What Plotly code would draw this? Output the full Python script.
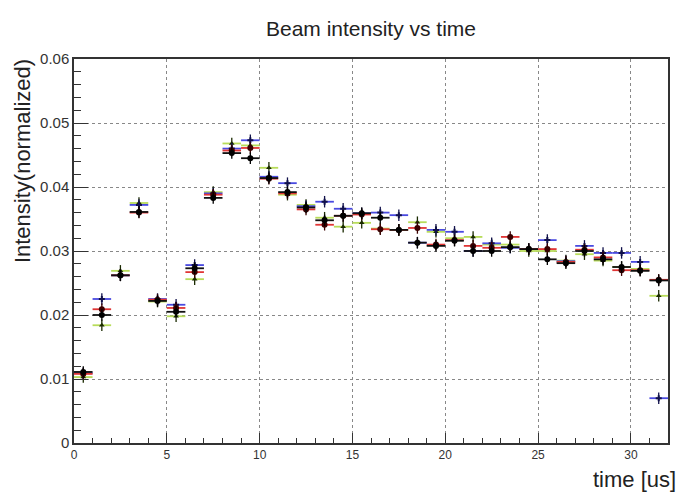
import plotly.graph_objects as go

# bin centres (time in us)
time_us = [i + 0.5 for i in range(32)]

black = [0.0111, 0.0200, 0.0262, 0.0361, 0.0222, 0.0205, 0.0273, 0.0383,
         0.0453, 0.0445, 0.0414, 0.0392, 0.0368, 0.0348, 0.0355, 0.0359,
         0.0352, 0.0333, 0.0313, 0.0308, 0.0316, 0.0300, 0.0300, 0.0306,
         0.0303, 0.0287, 0.0281, 0.0300, 0.0287, 0.0275, 0.0269, 0.0254]
red = [0.0108, 0.0209, 0.0262, 0.0360, 0.0224, 0.0211, 0.0267, 0.0388,
       0.0457, 0.0461, 0.0413, 0.0390, 0.0365, 0.0341, 0.0355, 0.0357,
       0.0334, 0.0333, 0.0336, 0.0310, 0.0317, 0.0308, 0.0305, 0.0322,
       0.0303, 0.0303, 0.0283, 0.0302, 0.0290, 0.0270, 0.0270, 0.0255]
green = [0.0103, 0.0184, 0.0269, 0.0375, 0.0221, 0.0198, 0.0256, 0.0392,
         0.0468, 0.0465, 0.0430, 0.0388, 0.0372, 0.0352, 0.0338, 0.0344,
         0.0335, 0.0333, 0.0345, 0.0330, 0.0320, 0.0322, 0.0310, 0.0310,
         0.0300, 0.0300, 0.0285, 0.0295, 0.0285, 0.0275, 0.0272, 0.0230]
blue = [0.0109, 0.0225, 0.0262, 0.0372, 0.0225, 0.0216, 0.0278, 0.0390,
        0.0460, 0.0473, 0.0416, 0.0406, 0.0370, 0.0377, 0.0366, 0.0359,
        0.0360, 0.0356, 0.0313, 0.0333, 0.0330, 0.0300, 0.0312, 0.0305,
        0.0303, 0.0317, 0.0284, 0.0308, 0.0297, 0.0297, 0.0283, 0.0070]

x_half_width = 0.5
y_error = 0.0009

series = [
    ("green", green, "#b8dc5a", "#1a2a00", "triangle-up", 5),
    ("blue", blue, "#4a4ae0", "#10104a", "cross", 5),
    ("red", red, "#e03535", "#3a0000", "circle", 6),
    ("black", black, "#111111", "#000000", "circle", 6),
]

fig = go.Figure()
for name, vals, bar_col, mk_col, sym, size in series:
    fig.add_trace(go.Scatter(
        x=time_us, y=vals, mode="markers", name=name,
        marker=dict(symbol=sym, size=size, color=mk_col),
        error_x=dict(type="constant", value=x_half_width, color=bar_col,
                     thickness=1.8, width=0),
        error_y=dict(type="constant", value=y_error, color=mk_col,
                     thickness=1.3, width=0),
        showlegend=False,
    ))

font_family = "Liberation Sans, Arial, sans-serif"

fig.update_layout(
    width=697, height=497,
    margin=dict(l=66, r=37, t=51, b=62),
    paper_bgcolor="white", plot_bgcolor="white",
    font=dict(family=font_family, color="#222"),
    title=dict(text="Beam intensity vs time", x=0.5, xref="paper",
               y=0.958, yref="container", xanchor="center", yanchor="middle",
               font=dict(size=21, color="#222", family=font_family)),
    xaxis=dict(range=[0, 32], dtick=5, tick0=0,
               showgrid=True, gridcolor="#888", griddash="dot", gridwidth=1,
               showline=True, linecolor="#333", linewidth=1.5, mirror=True,
               ticks="inside", ticklen=10, tickcolor="#333", tickwidth=1,
               minor=dict(dtick=1, ticks="inside", ticklen=5,
                          tickcolor="#333", showgrid=False),
               tickfont=dict(size=12, color="#333"),
               zeroline=False),
    yaxis=dict(range=[0, 0.06], dtick=0.01, tick0=0,
               showgrid=True, gridcolor="#888", griddash="dot", gridwidth=1,
               showline=True, linecolor="#333", linewidth=1.5, mirror=True,
               ticks="inside", ticklen=14, tickcolor="#333", tickwidth=1,
               minor=dict(dtick=0.002, ticks="inside", ticklen=7,
                          tickcolor="#333", showgrid=False),
               tickfont=dict(size=15, color="#333"),
               zeroline=False),
    annotations=[
        dict(text="time [us]", xref="paper", yref="paper",
             x=1.016, y=-0.096, xanchor="right", yanchor="middle",
             showarrow=False, font=dict(size=22, color="#222")),
        dict(text="Intensity(normalized)", xref="paper", yref="paper",
             x=-0.0875, y=1.005, xanchor="center", yanchor="top",
             textangle=-90, showarrow=False,
             font=dict(size=22, color="#222")),
    ],
)

fig.write_html("out.html")
